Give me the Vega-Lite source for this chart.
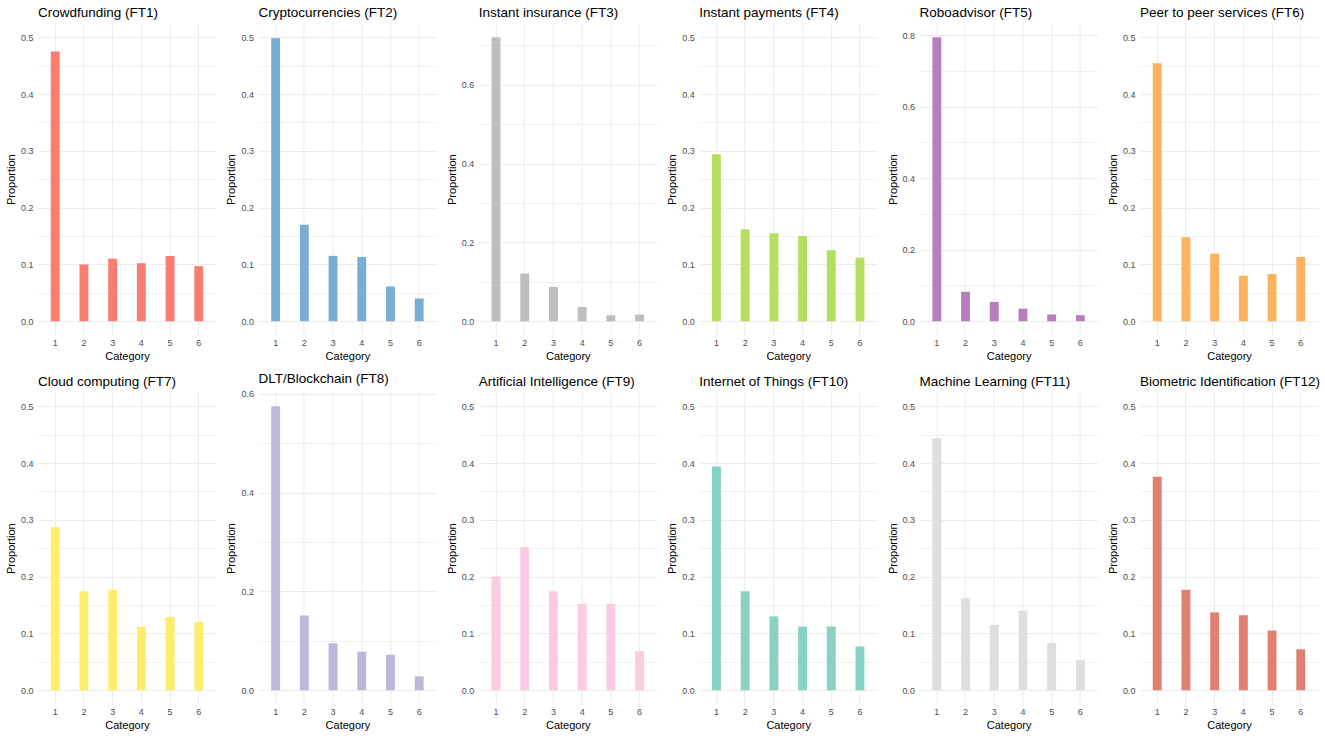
{
  "$schema": "https://vega.github.io/schema/vega-lite/v6.json",
  "padding": {"left": 5, "top": 5, "right": 0, "bottom": 0},
  "background": "white",
  "config": {
    "font": "Liberation Sans",
    "view": {"stroke": null},
    "axis": {"domain": false, "ticks": false, "gridColor": "#EBEBEB", "gridWidth": 1, "labelColor": "#4D4D4D", "labelFontSize": 9, "titleFontSize": 11, "titleFontWeight": "normal", "titleColor": "#000000", "labelFont": "Liberation Sans", "titleFont": "Liberation Sans"},
    "axisX": {"labelAngle": 0, "labelPadding": 3, "titlePadding": 3, "grid": true, "bandPosition": 0.5},
    "axisY": {"labelPadding": 5, "titlePadding": 4},
    "title": {"anchor": "start", "frame": "group", "fontSize": 13.5, "fontWeight": "normal", "font": "Liberation Sans", "color": "#000000", "offset": 4}
  },
  "data": {"values": [
    {"ft": "FT1", "category": 1, "proportion": 0.475}, {"ft": "FT1", "category": 2, "proportion": 0.100}, {"ft": "FT1", "category": 3, "proportion": 0.110}, {"ft": "FT1", "category": 4, "proportion": 0.102}, {"ft": "FT1", "category": 5, "proportion": 0.115}, {"ft": "FT1", "category": 6, "proportion": 0.097},
    {"ft": "FT2", "category": 1, "proportion": 0.498}, {"ft": "FT2", "category": 2, "proportion": 0.170}, {"ft": "FT2", "category": 3, "proportion": 0.115}, {"ft": "FT2", "category": 4, "proportion": 0.113}, {"ft": "FT2", "category": 5, "proportion": 0.061}, {"ft": "FT2", "category": 6, "proportion": 0.040},
    {"ft": "FT3", "category": 1, "proportion": 0.721}, {"ft": "FT3", "category": 2, "proportion": 0.121}, {"ft": "FT3", "category": 3, "proportion": 0.087}, {"ft": "FT3", "category": 4, "proportion": 0.036}, {"ft": "FT3", "category": 5, "proportion": 0.015}, {"ft": "FT3", "category": 6, "proportion": 0.017},
    {"ft": "FT4", "category": 1, "proportion": 0.294}, {"ft": "FT4", "category": 2, "proportion": 0.162}, {"ft": "FT4", "category": 3, "proportion": 0.155}, {"ft": "FT4", "category": 4, "proportion": 0.150}, {"ft": "FT4", "category": 5, "proportion": 0.125}, {"ft": "FT4", "category": 6, "proportion": 0.112},
    {"ft": "FT5", "category": 1, "proportion": 0.794}, {"ft": "FT5", "category": 2, "proportion": 0.082}, {"ft": "FT5", "category": 3, "proportion": 0.054}, {"ft": "FT5", "category": 4, "proportion": 0.035}, {"ft": "FT5", "category": 5, "proportion": 0.019}, {"ft": "FT5", "category": 6, "proportion": 0.017},
    {"ft": "FT6", "category": 1, "proportion": 0.454}, {"ft": "FT6", "category": 2, "proportion": 0.148}, {"ft": "FT6", "category": 3, "proportion": 0.119}, {"ft": "FT6", "category": 4, "proportion": 0.080}, {"ft": "FT6", "category": 5, "proportion": 0.083}, {"ft": "FT6", "category": 6, "proportion": 0.113},
    {"ft": "FT7", "category": 1, "proportion": 0.287}, {"ft": "FT7", "category": 2, "proportion": 0.174}, {"ft": "FT7", "category": 3, "proportion": 0.177}, {"ft": "FT7", "category": 4, "proportion": 0.112}, {"ft": "FT7", "category": 5, "proportion": 0.129}, {"ft": "FT7", "category": 6, "proportion": 0.120},
    {"ft": "FT8", "category": 1, "proportion": 0.575}, {"ft": "FT8", "category": 2, "proportion": 0.151}, {"ft": "FT8", "category": 3, "proportion": 0.095}, {"ft": "FT8", "category": 4, "proportion": 0.078}, {"ft": "FT8", "category": 5, "proportion": 0.072}, {"ft": "FT8", "category": 6, "proportion": 0.028},
    {"ft": "FT9", "category": 1, "proportion": 0.200}, {"ft": "FT9", "category": 2, "proportion": 0.252}, {"ft": "FT9", "category": 3, "proportion": 0.174}, {"ft": "FT9", "category": 4, "proportion": 0.152}, {"ft": "FT9", "category": 5, "proportion": 0.152}, {"ft": "FT9", "category": 6, "proportion": 0.069},
    {"ft": "FT10", "category": 1, "proportion": 0.394}, {"ft": "FT10", "category": 2, "proportion": 0.174}, {"ft": "FT10", "category": 3, "proportion": 0.130}, {"ft": "FT10", "category": 4, "proportion": 0.112}, {"ft": "FT10", "category": 5, "proportion": 0.112}, {"ft": "FT10", "category": 6, "proportion": 0.077},
    {"ft": "FT11", "category": 1, "proportion": 0.444}, {"ft": "FT11", "category": 2, "proportion": 0.162}, {"ft": "FT11", "category": 3, "proportion": 0.115}, {"ft": "FT11", "category": 4, "proportion": 0.140}, {"ft": "FT11", "category": 5, "proportion": 0.083}, {"ft": "FT11", "category": 6, "proportion": 0.053},
    {"ft": "FT12", "category": 1, "proportion": 0.376}, {"ft": "FT12", "category": 2, "proportion": 0.177}, {"ft": "FT12", "category": 3, "proportion": 0.137}, {"ft": "FT12", "category": 4, "proportion": 0.132}, {"ft": "FT12", "category": 5, "proportion": 0.105}, {"ft": "FT12", "category": 6, "proportion": 0.072}
  ]},
  "spacing": 10,
  "vconcat": [
    {"bounds": "flush", "spacing": 42.4, "hconcat": [
      {"title": "Crowdfunding (FT1)", "width": 178, "height": 312.4, "transform": [{"filter": "datum.ft === 'FT1'"}], "mark": {"type": "bar", "color": "#FA7D6E"},
       "encoding": {"x": {"field": "category", "type": "ordinal", "title": "Category", "scale": {"paddingInner": 0.69, "paddingOuter": 0.445}},
        "y": {"field": "proportion", "type": "quantitative", "title": "Proportion", "scale": {"domain": [-0.025, 0.525], "nice": false},
         "axis": {"values": [0, 0.05, 0.1, 0.15, 0.2, 0.25, 0.3, 0.35, 0.4, 0.45, 0.5], "labelExpr": "abs(datum.value*10-round(datum.value*10))<0.000001 ? format(datum.value,'.1f') : ''", "gridColor": {"condition": {"test": "abs(datum.value*10-round(datum.value*10))<0.000001", "value": "#EBEBEB"}, "value": "#F1F1F1"}}}}},
      {"title": "Cryptocurrencies (FT2)", "width": 178, "height": 312.4, "transform": [{"filter": "datum.ft === 'FT2'"}], "mark": {"type": "bar", "color": "#7AADD3"},
       "encoding": {"x": {"field": "category", "type": "ordinal", "title": "Category", "scale": {"paddingInner": 0.69, "paddingOuter": 0.445}},
        "y": {"field": "proportion", "type": "quantitative", "title": "Proportion", "scale": {"domain": [-0.025, 0.525], "nice": false},
         "axis": {"values": [0, 0.05, 0.1, 0.15, 0.2, 0.25, 0.3, 0.35, 0.4, 0.45, 0.5], "labelExpr": "abs(datum.value*10-round(datum.value*10))<0.000001 ? format(datum.value,'.1f') : ''", "gridColor": {"condition": {"test": "abs(datum.value*10-round(datum.value*10))<0.000001", "value": "#EBEBEB"}, "value": "#F1F1F1"}}}}},
      {"title": "Instant insurance (FT3)", "width": 178, "height": 312.4, "transform": [{"filter": "datum.ft === 'FT3'"}], "mark": {"type": "bar", "color": "#BDBDBD"},
       "encoding": {"x": {"field": "category", "type": "ordinal", "title": "Category", "scale": {"paddingInner": 0.69, "paddingOuter": 0.445}},
        "y": {"field": "proportion", "type": "quantitative", "title": "Proportion", "scale": {"domain": [-0.036, 0.757], "nice": false},
         "axis": {"values": [0, 0.1, 0.2, 0.3, 0.4, 0.5, 0.6, 0.7], "labelExpr": "abs(datum.value*5-round(datum.value*5))<0.000001 ? format(datum.value,'.1f') : ''", "gridColor": {"condition": {"test": "abs(datum.value*5-round(datum.value*5))<0.000001", "value": "#EBEBEB"}, "value": "#F1F1F1"}}}}},
      {"title": "Instant payments (FT4)", "width": 178, "height": 312.4, "transform": [{"filter": "datum.ft === 'FT4'"}], "mark": {"type": "bar", "color": "#B2DF5E"},
       "encoding": {"x": {"field": "category", "type": "ordinal", "title": "Category", "scale": {"paddingInner": 0.69, "paddingOuter": 0.445}},
        "y": {"field": "proportion", "type": "quantitative", "title": "Proportion", "scale": {"domain": [-0.025, 0.525], "nice": false},
         "axis": {"values": [0, 0.05, 0.1, 0.15, 0.2, 0.25, 0.3, 0.35, 0.4, 0.45, 0.5], "labelExpr": "abs(datum.value*10-round(datum.value*10))<0.000001 ? format(datum.value,'.1f') : ''", "gridColor": {"condition": {"test": "abs(datum.value*10-round(datum.value*10))<0.000001", "value": "#EBEBEB"}, "value": "#F1F1F1"}}}}},
      {"title": "Roboadvisor (FT5)", "width": 178, "height": 312.4, "transform": [{"filter": "datum.ft === 'FT5'"}], "mark": {"type": "bar", "color": "#B87DBC"},
       "encoding": {"x": {"field": "category", "type": "ordinal", "title": "Category", "scale": {"paddingInner": 0.69, "paddingOuter": 0.445}},
        "y": {"field": "proportion", "type": "quantitative", "title": "Proportion", "scale": {"domain": [-0.0397, 0.8337], "nice": false},
         "axis": {"values": [0, 0.1, 0.2, 0.3, 0.4, 0.5, 0.6, 0.7, 0.8], "labelExpr": "abs(datum.value*5-round(datum.value*5))<0.000001 ? format(datum.value,'.1f') : ''", "gridColor": {"condition": {"test": "abs(datum.value*5-round(datum.value*5))<0.000001", "value": "#EBEBEB"}, "value": "#F1F1F1"}}}}},
      {"title": "Peer to peer services (FT6)", "width": 178, "height": 312.4, "transform": [{"filter": "datum.ft === 'FT6'"}], "mark": {"type": "bar", "color": "#FDB35D"},
       "encoding": {"x": {"field": "category", "type": "ordinal", "title": "Category", "scale": {"paddingInner": 0.69, "paddingOuter": 0.445}},
        "y": {"field": "proportion", "type": "quantitative", "title": "Proportion", "scale": {"domain": [-0.025, 0.525], "nice": false},
         "axis": {"values": [0, 0.05, 0.1, 0.15, 0.2, 0.25, 0.3, 0.35, 0.4, 0.45, 0.5], "labelExpr": "abs(datum.value*10-round(datum.value*10))<0.000001 ? format(datum.value,'.1f') : ''", "gridColor": {"condition": {"test": "abs(datum.value*10-round(datum.value*10))<0.000001", "value": "#EBEBEB"}, "value": "#F1F1F1"}}}}}
    ]},
    {"bounds": "flush", "spacing": 42.4, "hconcat": [
      {"title": "Cloud computing (FT7)", "width": 178, "height": 312.4, "transform": [{"filter": "datum.ft === 'FT7'"}], "mark": {"type": "bar", "color": "#FFEC6A"},
       "encoding": {"x": {"field": "category", "type": "ordinal", "title": "Category", "scale": {"paddingInner": 0.69, "paddingOuter": 0.445}},
        "y": {"field": "proportion", "type": "quantitative", "title": "Proportion", "scale": {"domain": [-0.025, 0.525], "nice": false},
         "axis": {"values": [0, 0.05, 0.1, 0.15, 0.2, 0.25, 0.3, 0.35, 0.4, 0.45, 0.5], "labelExpr": "abs(datum.value*10-round(datum.value*10))<0.000001 ? format(datum.value,'.1f') : ''", "gridColor": {"condition": {"test": "abs(datum.value*10-round(datum.value*10))<0.000001", "value": "#EBEBEB"}, "value": "#F1F1F1"}}}}},
      {"title": "DLT/Blockchain (FT8)", "width": 178, "height": 312.4, "transform": [{"filter": "datum.ft === 'FT8'"}], "mark": {"type": "bar", "color": "#BCB8DA"},
       "encoding": {"x": {"field": "category", "type": "ordinal", "title": "Category", "scale": {"paddingInner": 0.69, "paddingOuter": 0.445}},
        "y": {"field": "proportion", "type": "quantitative", "title": "Proportion", "scale": {"domain": [-0.02875, 0.60375], "nice": false},
         "axis": {"values": [0, 0.1, 0.2, 0.3, 0.4, 0.5, 0.6], "labelExpr": "abs(datum.value*5-round(datum.value*5))<0.000001 ? format(datum.value,'.1f') : ''", "gridColor": {"condition": {"test": "abs(datum.value*5-round(datum.value*5))<0.000001", "value": "#EBEBEB"}, "value": "#F1F1F1"}}}}},
      {"title": "Artificial Intelligence (FT9)", "width": 178, "height": 312.4, "transform": [{"filter": "datum.ft === 'FT9'"}], "mark": {"type": "bar", "color": "#FCCAE3"},
       "encoding": {"x": {"field": "category", "type": "ordinal", "title": "Category", "scale": {"paddingInner": 0.69, "paddingOuter": 0.445}},
        "y": {"field": "proportion", "type": "quantitative", "title": "Proportion", "scale": {"domain": [-0.025, 0.525], "nice": false},
         "axis": {"values": [0, 0.05, 0.1, 0.15, 0.2, 0.25, 0.3, 0.35, 0.4, 0.45, 0.5], "labelExpr": "abs(datum.value*10-round(datum.value*10))<0.000001 ? format(datum.value,'.1f') : ''", "gridColor": {"condition": {"test": "abs(datum.value*10-round(datum.value*10))<0.000001", "value": "#EBEBEB"}, "value": "#F1F1F1"}}}}},
      {"title": "Internet of Things (FT10)", "width": 178, "height": 312.4, "transform": [{"filter": "datum.ft === 'FT10'"}], "mark": {"type": "bar", "color": "#88D2C4"},
       "encoding": {"x": {"field": "category", "type": "ordinal", "title": "Category", "scale": {"paddingInner": 0.69, "paddingOuter": 0.445}},
        "y": {"field": "proportion", "type": "quantitative", "title": "Proportion", "scale": {"domain": [-0.025, 0.525], "nice": false},
         "axis": {"values": [0, 0.05, 0.1, 0.15, 0.2, 0.25, 0.3, 0.35, 0.4, 0.45, 0.5], "labelExpr": "abs(datum.value*10-round(datum.value*10))<0.000001 ? format(datum.value,'.1f') : ''", "gridColor": {"condition": {"test": "abs(datum.value*10-round(datum.value*10))<0.000001", "value": "#EBEBEB"}, "value": "#F1F1F1"}}}}},
      {"title": "Machine Learning (FT11)", "width": 178, "height": 312.4, "transform": [{"filter": "datum.ft === 'FT11'"}], "mark": {"type": "bar", "color": "#DEDEDE"},
       "encoding": {"x": {"field": "category", "type": "ordinal", "title": "Category", "scale": {"paddingInner": 0.69, "paddingOuter": 0.445}},
        "y": {"field": "proportion", "type": "quantitative", "title": "Proportion", "scale": {"domain": [-0.025, 0.525], "nice": false},
         "axis": {"values": [0, 0.05, 0.1, 0.15, 0.2, 0.25, 0.3, 0.35, 0.4, 0.45, 0.5], "labelExpr": "abs(datum.value*10-round(datum.value*10))<0.000001 ? format(datum.value,'.1f') : ''", "gridColor": {"condition": {"test": "abs(datum.value*10-round(datum.value*10))<0.000001", "value": "#EBEBEB"}, "value": "#F1F1F1"}}}}},
      {"title": "Biometric Identification (FT12)", "width": 178, "height": 312.4, "transform": [{"filter": "datum.ft === 'FT12'"}], "mark": {"type": "bar", "color": "#DF8070"},
       "encoding": {"x": {"field": "category", "type": "ordinal", "title": "Category", "scale": {"paddingInner": 0.69, "paddingOuter": 0.445}},
        "y": {"field": "proportion", "type": "quantitative", "title": "Proportion", "scale": {"domain": [-0.025, 0.525], "nice": false},
         "axis": {"values": [0, 0.05, 0.1, 0.15, 0.2, 0.25, 0.3, 0.35, 0.4, 0.45, 0.5], "labelExpr": "abs(datum.value*10-round(datum.value*10))<0.000001 ? format(datum.value,'.1f') : ''", "gridColor": {"condition": {"test": "abs(datum.value*10-round(datum.value*10))<0.000001", "value": "#EBEBEB"}, "value": "#F1F1F1"}}}}}
    ]}
  ]
}
